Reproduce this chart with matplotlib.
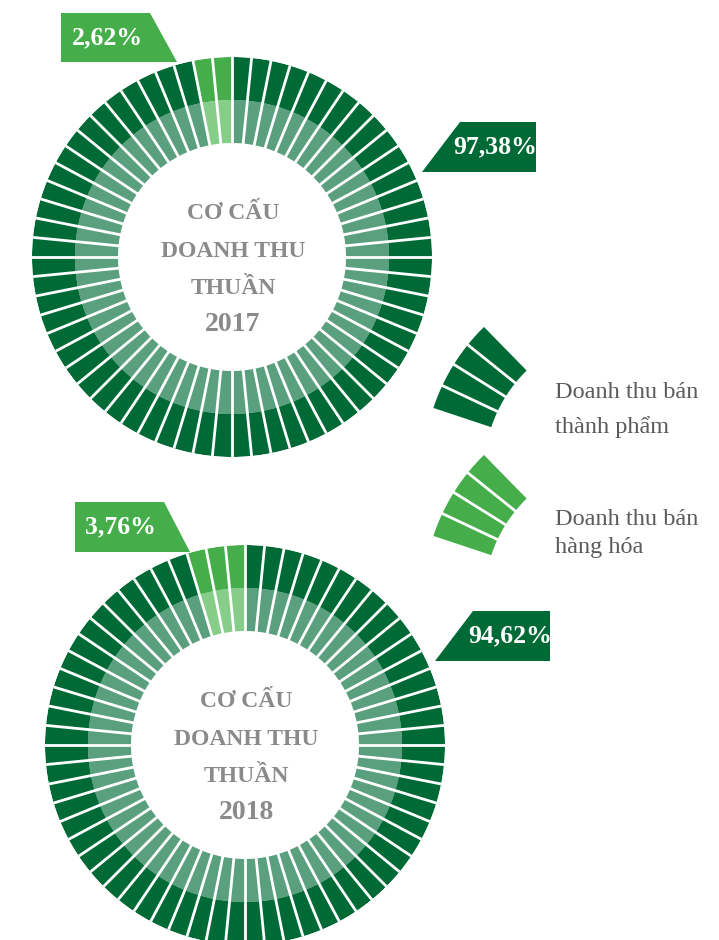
import math
import matplotlib.pyplot as plt
import numpy as np
from matplotlib.patches import Polygon, Wedge

# data
years = ['2017', '2018']
thanh_pham = [97.38, 94.62]   # Doanh thu bán thành phẩm (%)
hang_hoa = [2.62, 3.76]       # Doanh thu bán hàng hóa (%)
center_title = ['CƠ CẤU', 'DOANH THU', 'THUẦN']
legend_labels = [['Doanh thu bán', 'thành phẩm'], ['Doanh thu bán', 'hàng hóa']]

W, H = 719, 940
N_SEG = 64
R_IN, R_MID, R_OUT = 114, 157, 200

DARK = '#006a36'
DARK_IN = '#5a9f7e'
GREEN = '#45ae4b'
GREEN_IN = '#86cd8a'
GREY = '#8a8a8d'
SERIF = ['Liberation Serif', 'DejaVu Serif']

fig = plt.figure(figsize=(W / 100, H / 100), dpi=100)

centers = [(232, 257), (245, 745)]


def donut(cx, cy, n_green):
    ax = fig.add_axes([(cx - R_OUT) / W, (H - cy - R_OUT) / H, 2 * R_OUT / W, 2 * R_OUT / H],
                      projection='polar')
    ax.set_theta_zero_location('N')
    ax.set_theta_direction(-1)
    step = 2 * np.pi / N_SEG
    idx = np.arange(N_SEG)
    theta = idx * step + step / 2
    is_green = idx >= N_SEG - n_green
    outer = np.where(is_green, GREEN, DARK)
    inner = np.where(is_green, GREEN_IN, DARK_IN)
    ax.bar(theta, R_MID - R_IN, width=step * 1.01, bottom=R_IN, color=inner, linewidth=0)
    ax.bar(theta, R_OUT - R_MID, width=step * 1.01, bottom=R_MID, color=outer, linewidth=0)
    for t in idx * step:
        ax.plot([t, t], [R_IN - 3, R_OUT + 3], color='white', lw=2.0, solid_capstyle='butt')
    ax.set_ylim(0, R_OUT)
    ax.set_axis_off()
    return ax


for (cx, cy), hh in zip(centers, hang_hoa):
    donut(cx, cy, math.ceil(hh * N_SEG / 100))

# overlay in pixel coordinates for labels and legend
ov = fig.add_axes([0, 0, 1, 1])
ov.set_xlim(0, W)
ov.set_ylim(H, 0)
ov.axis('off')
ov.patch.set_alpha(0)


def pct(v):
    return f"{v:.2f}".replace('.', ',') + '%'


# percentage tags
green_boxes = [[(61, 13), (150, 13), (177, 62), (61, 62)],
               [(75, 502), (164, 502), (190, 552), (75, 552)]]
green_text = [(107, 38), (120, 527)]
dark_boxes = [[(460, 122), (536, 122), (536, 172), (422, 172)],
              [(473, 611), (550, 611), (550, 661), (435, 661)]]
dark_text = [(495, 147), (510, 636)]

for i in range(len(years)):
    ov.add_patch(Polygon(green_boxes[i], closed=True, color=GREEN, lw=0))
    ov.text(*green_text[i], pct(hang_hoa[i]), color='white', fontsize=18.5, fontweight='bold',
            family=SERIF, ha='center', va='center')
    ov.add_patch(Polygon(dark_boxes[i], closed=True, color=DARK, lw=0))
    ov.text(*dark_text[i], pct(thanh_pham[i]), color='white', fontsize=18.5, fontweight='bold',
            family=SERIF, ha='center', va='center')

    cx, cy = centers[i]
    for line, dy in zip(center_title, [-38, 0, 37]):
        ov.text(cx + 1, cy + dy, line, color=GREY, fontsize=17, fontweight='bold',
                family=SERIF, ha='center', va='baseline')
    ov.text(cx + 1, cy + 74, years[i], color=GREY, fontsize=20, fontweight='bold',
            family=SERIF, ha='center', va='baseline')

# legend icons: small pieces of the ring
icon_centers = [(626, 472), (626, 600)]
icon_colors = [DARK, GREEN]
seg = 6.8
for (icx, icy), col in zip(icon_centers, icon_colors):
    start = 212 - 2 * seg
    for k in range(4):
        a0 = start + k * seg
        ov.add_patch(Wedge((icx, icy), 203, a0, a0 + seg, width=61, color=col, lw=0))
    for k in range(1, 4):
        a = np.deg2rad(start + k * seg)
        ov.plot([icx + 138 * np.cos(a), icx + 206 * np.cos(a)],
                [icy + 138 * np.sin(a), icy + 206 * np.sin(a)],
                color='white', lw=2.0, solid_capstyle='butt')

legend_y = [(398, 433), (525, 553)]
for lines, ys in zip(legend_labels, legend_y):
    for line, y in zip(lines, ys):
        ov.text(555, y, line, color='#5b5b5d', fontsize=17.5, family=SERIF,
                ha='left', va='baseline')

fig.savefig('out.png', dpi=100)
